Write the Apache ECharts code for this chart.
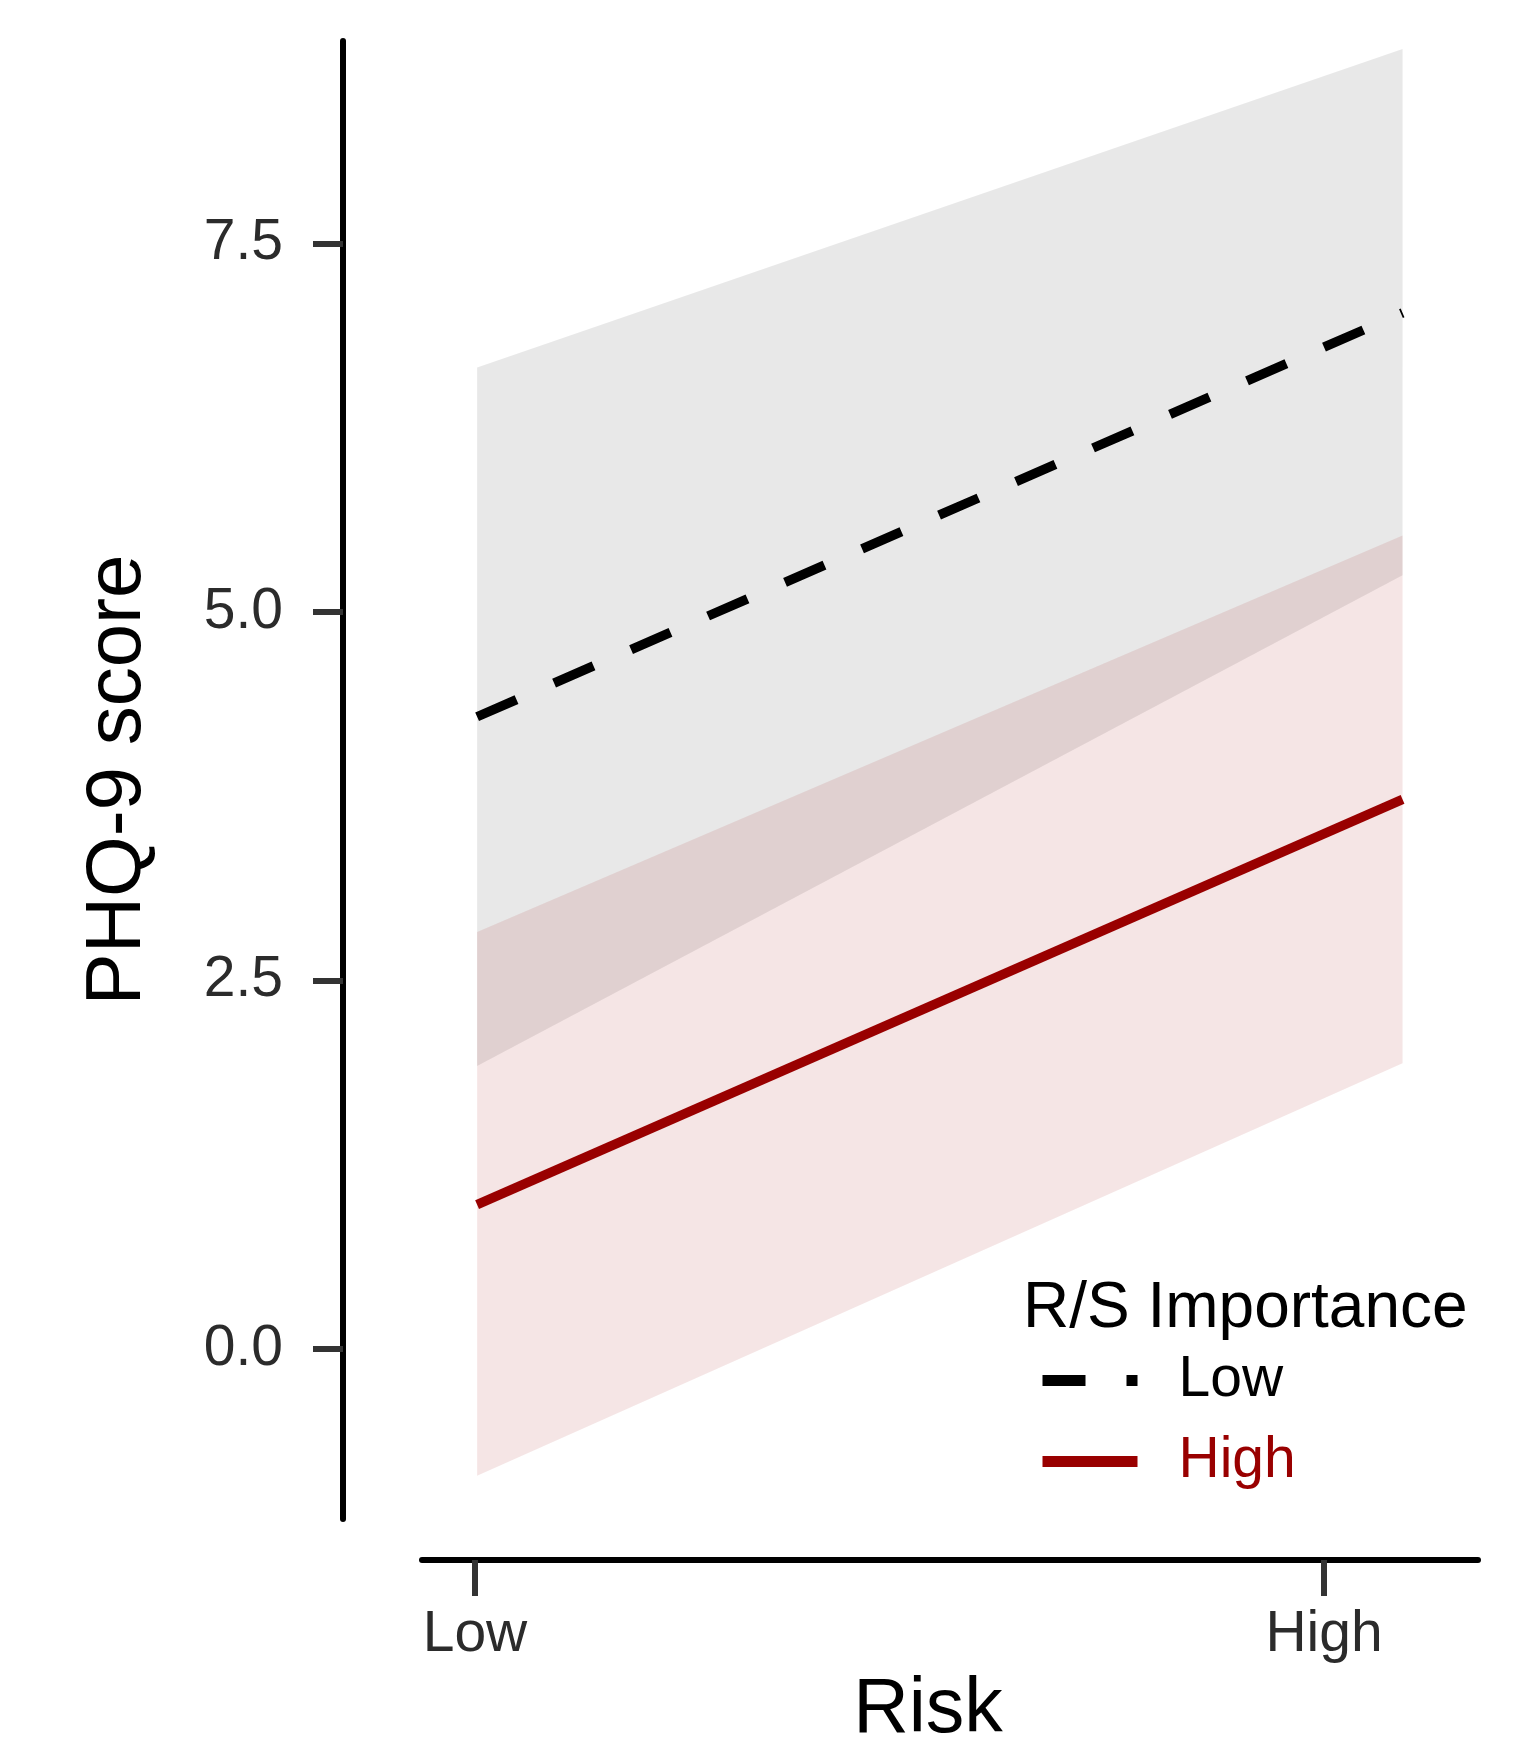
<!DOCTYPE html>
<html>
<head>
<meta charset="utf-8">
<script src="https://cdn.jsdelivr.net/npm/echarts@6/dist/echarts.min.js"></script>
<style>html,body{margin:0;padding:0;background:#fff}#chart{width:1519px;height:1741px}</style>
</head>
<body>
<div id="chart"></div>
<script>
// ---- data ----
const riskX = [-0.995, 1.185];          // observed range of Risk (Low = -1, High = +1)
const riskTickValues = [-1, 1];
const riskTickLabels = ['Low', 'High'];
const yTickValues = [0, 2.5, 5, 7.5];
const groupNames = ['Low', 'High'];     // R/S Importance
const lowFit = [4.29, 7.03];
const lowLower = [1.92, 5.25];
const lowUpper = [6.66, 8.82];
const highFit = [0.98, 3.73];
const highLower = [-0.86, 1.94];
const highUpper = [2.83, 5.52];

const FONT = '"Liberation Sans", Arial, sans-serif';

function bandSeries(name, lower, upper, color) {
  return {
    type: 'custom', name: name, silent: true, z: 1,
    data: [[riskX[0], lower[0]]],
    encode: { x: 0, y: 1 },
    renderItem: function (params, api) {
      const pts = [];
      for (let i = 0; i < riskX.length; i++) pts.push(api.coord([riskX[i], upper[i]]));
      for (let i = riskX.length - 1; i >= 0; i--) pts.push(api.coord([riskX[i], lower[i]]));
      return { type: 'polygon', shape: { points: pts }, style: { fill: color } };
    }
  };
}

const chart = echarts.init(document.getElementById('chart'), null, { renderer: 'canvas' });
chart.setOption({
  animation: false,
  backgroundColor: '#fff',
  textStyle: { fontFamily: FONT },
  title: {
    text: 'R/S Importance', left: 1018, top: 1272,
    textStyle: { fontSize: 64, fontWeight: 'normal', color: '#000', fontFamily: FONT }
  },
  legend: {
    orient: 'vertical', left: 1037, top: 1352, padding: 0,
    itemWidth: 95, itemHeight: 1, itemGap: 24,
    data: [
      { name: groupNames[0], textStyle: { color: '#000' } },
      { name: groupNames[1], textStyle: { color: '#990000' } }
    ],
    textStyle: { fontSize: 57, fontFamily: FONT, padding: [0, 0, 0, 36] },
    itemStyle: { opacity: 0 },
    lineStyle: { width: 11 }
  },
  grid: { left: 422, right: 41, top: 41, bottom: 222, containLabel: false, outerBoundsMode: 'none' },
  xAxis: {
    type: 'value', min: -1.1248, max: 1.3627, offset: 41,
    axisLine: { show: true, onZero: false, lineStyle: { color: '#000', width: 6 } },
    axisTick: { show: true, length: 36, customValues: riskTickValues, lineStyle: { color: '#333', width: 6 } },
    axisLabel: {
      customValues: riskTickValues, fontSize: 57, color: '#2b2b2b', margin: 47, fontFamily: FONT,
      formatter: function (v) {
        for (let i = 0; i < riskTickValues.length; i++) if (Math.abs(v - riskTickValues[i]) < 1e-6) return riskTickLabels[i];
        return '';
      }
    },
    splitLine: { show: false },
    name: 'Risk', nameLocation: 'middle', nameGap: 112,
    nameTextStyle: { fontSize: 77, color: '#000', fontFamily: FONT, padding: [0, 44, 0, 0] }
  },
  yAxis: {
    type: 'value', min: -1.153, max: 8.875, offset: 79,
    axisLine: { show: true, onZero: false, lineStyle: { color: '#000', width: 6 } },
    axisTick: { show: true, length: 30, customValues: yTickValues, lineStyle: { color: '#333', width: 6 } },
    axisLabel: {
      customValues: yTickValues, fontSize: 57, color: '#2b2b2b', margin: 60, fontFamily: FONT,
      formatter: function (v) { return v.toFixed(1); }
    },
    splitLine: { show: false },
    name: 'PHQ-9 score', nameLocation: 'middle', nameGap: 186,
    nameTextStyle: { fontSize: 78, color: '#000', fontFamily: FONT }
  },
  series: [
    bandSeries('Low band', lowLower, lowUpper, 'rgba(0,0,0,0.09)'),
    bandSeries('High band', highLower, highUpper, 'rgba(153,0,0,0.1)'),
    {
      type: 'line', name: groupNames[0], z: 3, symbol: 'none',
      data: riskX.map(function (x, i) { return [x, lowFit[i]]; }),
      lineStyle: { color: '#000', width: 9.5, type: [43, 41] },
      itemStyle: { color: '#000' }
    },
    {
      type: 'line', name: groupNames[1], z: 3, symbol: 'none',
      data: riskX.map(function (x, i) { return [x, highFit[i]]; }),
      lineStyle: { color: '#990000', width: 9.5 },
      itemStyle: { color: '#990000' }
    }
  ]
});
</script>
</body>
</html>
